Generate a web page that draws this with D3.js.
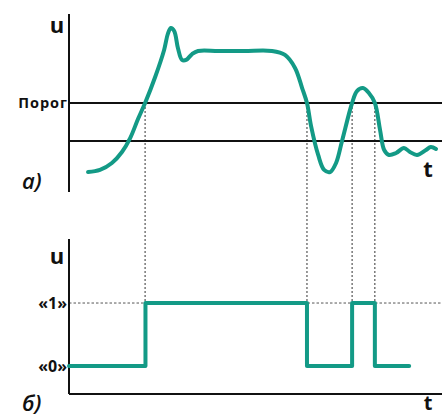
<!DOCTYPE html>
<html><head><meta charset="utf-8">
<script src="https://cdn.jsdelivr.net/npm/d3@7/dist/d3.min.js"></script>
<style>body{margin:0;background:#fff}svg{display:block}</style>
</head><body>
<script>
// Analog signal (a): time t, voltage u
const analogT = [5.1,8.3,11.5,14.2,16.4,18.5,20.4,23.1,25.5,26.5,27.3,28.2,29.2,30.3,31.4,33,34.6,40,47,54.4,57.9,60.6,62.5,63.8,64.9,66.8,68.4,70,71.6,73.2,75.9,77.2,78.8,80.4,82,83.4,84.5,85.8,87.7,89.8,91.4,93.3,95.7,97,98.4];
const analogU = [11.2,12.4,16.3,22.5,30.3,41,50,64.6,79.8,88.8,92.1,90.4,80.9,74.2,74.2,77.5,79.2,79.2,79.2,79.2,77,69.7,58.4,50,37,20.8,12.4,11.2,16.3,28.7,50,56.7,58.4,55.6,50,34.8,23.6,20.8,21.9,24.7,22.5,20.8,23.6,25.3,24.2];
const thresholds = [50, 28.7];
const thresholdLabel = "Порог";
// Crossing times of upper threshold
const crossings = [20.4, 63.8, 75.9, 82];
// Digital signal (б)
const digitalT = [0, 20.5, 63.8, 75.9, 82, 91.2];
const digitalV = [0, 1, 0, 1, 0, 0];
const levelLabels = ["«0»", "«1»"];

const W = 447, H = 417, teal = "#139a86";
const svg = d3.select("body").append("svg").attr("width", W).attr("height", H);

const x = d3.scaleLinear().domain([0, 100]).range([69, 442]);
const yA = d3.scaleLinear().domain([0, 100]).range([192, 14]);
const yB = d3.scaleLinear().domain([-0.444, 2.016]).range([394, 239]);

// dotted guides
svg.append("g").selectAll("line").data(crossings).join("line")
  .attr("x1", d => x(d)).attr("x2", d => x(d))
  .attr("y1", yA(thresholds[0])).attr("y2", yB(1))
  .attr("stroke", "#333").attr("stroke-width", 1).attr("stroke-dasharray", "2,2");
svg.append("line").attr("x1", x(0)).attr("x2", x(100)).attr("y1", yB(1)).attr("y2", yB(1))
  .attr("stroke", "#555").attr("stroke-width", 1).attr("stroke-dasharray", "2.5,2");

// top axis
svg.append("line").attr("x1", x(0)).attr("x2", x(0)).attr("y1", yA(100)).attr("y2", yA(0))
  .attr("stroke", "#111").attr("stroke-width", 2);
svg.append("g").selectAll("line").data(thresholds).join("line")
  .attr("x1", x(0)).attr("x2", x(100)).attr("y1", d => yA(d)).attr("y2", d => yA(d))
  .attr("stroke", "#111").attr("stroke-width", 2);

// analog curve
const pts = analogT.map((t, i) => [t, analogU[i]]);
svg.append("path").datum(pts)
  .attr("d", d3.line().x(d => x(d[0])).y(d => yA(d[1])).curve(d3.curveCatmullRom.alpha(0.5)))
  .attr("fill", "none").attr("stroke", teal).attr("stroke-width", 4).attr("stroke-linecap", "round").attr("stroke-linejoin", "round");

// bottom axes
svg.append("line").attr("x1", x(0)).attr("x2", x(0)).attr("y1", yB(2.016)).attr("y2", yB(-0.444))
  .attr("stroke", "#111").attr("stroke-width", 2);
svg.append("line").attr("x1", x(0)).attr("x2", x(100)).attr("y1", yB(-0.444)).attr("y2", yB(-0.444))
  .attr("stroke", "#111").attr("stroke-width", 2);

// digital signal
const dpts = digitalT.map((t, i) => [t, digitalV[i]]);
svg.append("path").datum(dpts)
  .attr("d", d3.line().x(d => x(d[0])).y(d => yB(d[1])).curve(d3.curveStepAfter))
  .attr("fill", "none").attr("stroke", teal).attr("stroke-width", 4).attr("stroke-linejoin", "round").attr("stroke-linecap", "round");

// texts
const font = "'Open Sans', sans-serif";
function txt(s, px, py, size, opts = {}) {
  return svg.append("text").text(s).attr("x", px).attr("y", py)
    .attr("font-family", font).attr("font-size", size)
    .attr("font-weight", opts.weight || "bold").attr("font-style", opts.style || "normal")
    .attr("letter-spacing", opts.ls || 0)
    .attr("text-anchor", opts.anchor || "start").attr("fill", "#111");
}
txt("u", 57, 33, 22, {anchor: "middle"});
txt(thresholdLabel, 68, 108, 14.5, {anchor: "end", ls: 1});
txt("а)", 22, 189, 22, {style: "italic", weight: "600"});
txt("t", 428, 177, 22, {anchor: "middle"});
txt("u", 57, 264, 22, {anchor: "middle"});
txt(levelLabels[1], 67, yB(1) + 6, 16, {anchor: "end"});
txt(levelLabels[0], 67, yB(0) + 6, 16, {anchor: "end"});
txt("б)", 22, 411, 22, {style: "italic", weight: "600"});
txt("t", 428, 410, 20, {anchor: "middle"});
</script>
</body></html>
